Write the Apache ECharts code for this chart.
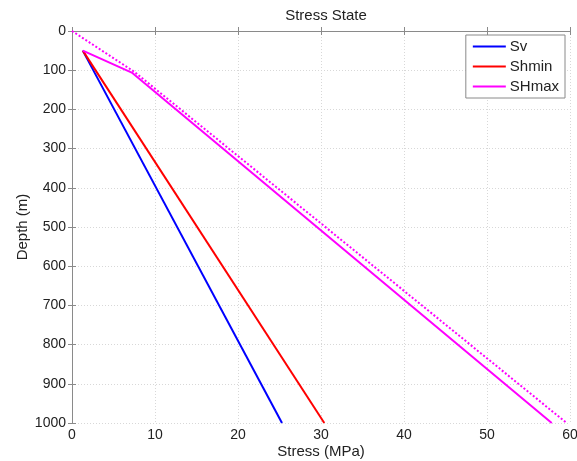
<!DOCTYPE html>
<html><head><meta charset="utf-8">
<script src="https://cdn.jsdelivr.net/npm/echarts@6/dist/echarts.min.js"></script>
<style>html,body{margin:0;padding:0;background:#fff}#c{width:577px;height:461px}</style>
</head><body><div id="c"></div>
<script>
const title = 'Stress State';
const xLabel = 'Stress (MPa)';
const yLabel = 'Depth (m)';
const seriesNames = ['Sv', 'Shmin', 'SHmax'];
const svStress = [1.3, 25.3];
const svDepth = [50, 1000];
const shminStress = [1.3, 30.4];
const shminDepth = [50, 1000];
const shmaxStress = [1.3, 7.2, 57.8];
const shmaxDepth = [50, 106, 1000];
const shmaxDotStress = [0, 7.5, 59.6];
const shmaxDotDepth = [0, 104, 1000];

const pairs = (xs, ys) => xs.map((x, i) => [x, ys[i]]);
const font = 'Liberation Sans, Arial, sans-serif';
const chart = echarts.init(document.getElementById('c'));
const axisLine = {show: true, lineStyle: {color: '#8a8a8a', width: 1}};
const tick = {show: true, inside: true, length: 4, lineStyle: {color: '#8a8a8a'}};
chart.setOption({
  animation: false,
  backgroundColor: '#fff',
  title: {text: title, left: 321, top: 3, textAlign: 'center',
    textStyle: {fontFamily: font, fontSize: 15, fontWeight: 'normal', color: '#222'}},
  grid: {left: 72, top: 31, right: 7, bottom: 38, containLabel: false, outerBoundsMode: 'none'},
  legend: {
    data: seriesNames, orient: 'vertical', right: 12, top: 35,
    backgroundColor: '#fff', borderColor: '#8a8a8a', borderWidth: 1,
    padding: [4, 6, 4, 7], itemGap: 5, itemWidth: 33, itemHeight: 2, icon: 'rect',
    textStyle: {fontFamily: font, fontSize: 15, color: '#222', padding: [0, 0, 0, -1]}
  },
  xAxis: [{
    type: 'value', min: 0, max: 60, interval: 10, position: 'bottom',
    name: xLabel, nameLocation: 'middle', nameGap: 21, nameMoveOverlap: false,
    nameTextStyle: {fontFamily: font, fontSize: 15, color: '#222'},
    axisLine: axisLine, axisTick: tick,
    axisLabel: {fontFamily: font, fontSize: 14, color: '#222', margin: 5},
    splitLine: {show: true, lineStyle: {color: '#d8d8d8', type: [1, 2]}}
  }, {
    type: 'value', min: 0, max: 60, interval: 10, position: 'top',
    axisLine: axisLine, axisTick: tick, axisLabel: {show: false}, splitLine: {show: false}
  }],
  yAxis: [{
    type: 'value', min: 0, max: 1000, interval: 100, inverse: true, position: 'left',
    name: yLabel, nameLocation: 'middle', nameGap: 42, nameMoveOverlap: false,
    nameTextStyle: {fontFamily: font, fontSize: 15, color: '#222'},
    axisLine: axisLine, axisTick: tick,
    axisLabel: {fontFamily: font, fontSize: 14, color: '#222', margin: 6,
      formatter: v => String(v)},
    splitLine: {show: true, lineStyle: {color: '#d8d8d8', type: [1, 2]}}
  }, {
    type: 'value', min: 0, max: 1000, interval: 100, inverse: true, position: 'right',
    axisLine: axisLine, axisTick: tick, axisLabel: {show: false}, splitLine: {show: false}
  }],
  series: [
    {name: 'Sv', type: 'line', data: pairs(svStress, svDepth), showSymbol: false,
      lineStyle: {color: '#0000ff', width: 2}, itemStyle: {color: '#0000ff'}},
    {name: 'Shmin', type: 'line', data: pairs(shminStress, shminDepth), showSymbol: false,
      lineStyle: {color: '#ff0000', width: 2}, itemStyle: {color: '#ff0000'}},
    {name: 'SHmax', type: 'line', data: pairs(shmaxStress, shmaxDepth), showSymbol: false,
      lineStyle: {color: '#ff00ff', width: 2}, itemStyle: {color: '#ff00ff'}},
    {name: 'SHmax dotted', type: 'line', data: pairs(shmaxDotStress, shmaxDotDepth), showSymbol: false,
      lineStyle: {color: '#ff00ff', width: 2, type: [2, 2]}, itemStyle: {color: '#ff00ff'}}
  ]
});
</script></body></html>
